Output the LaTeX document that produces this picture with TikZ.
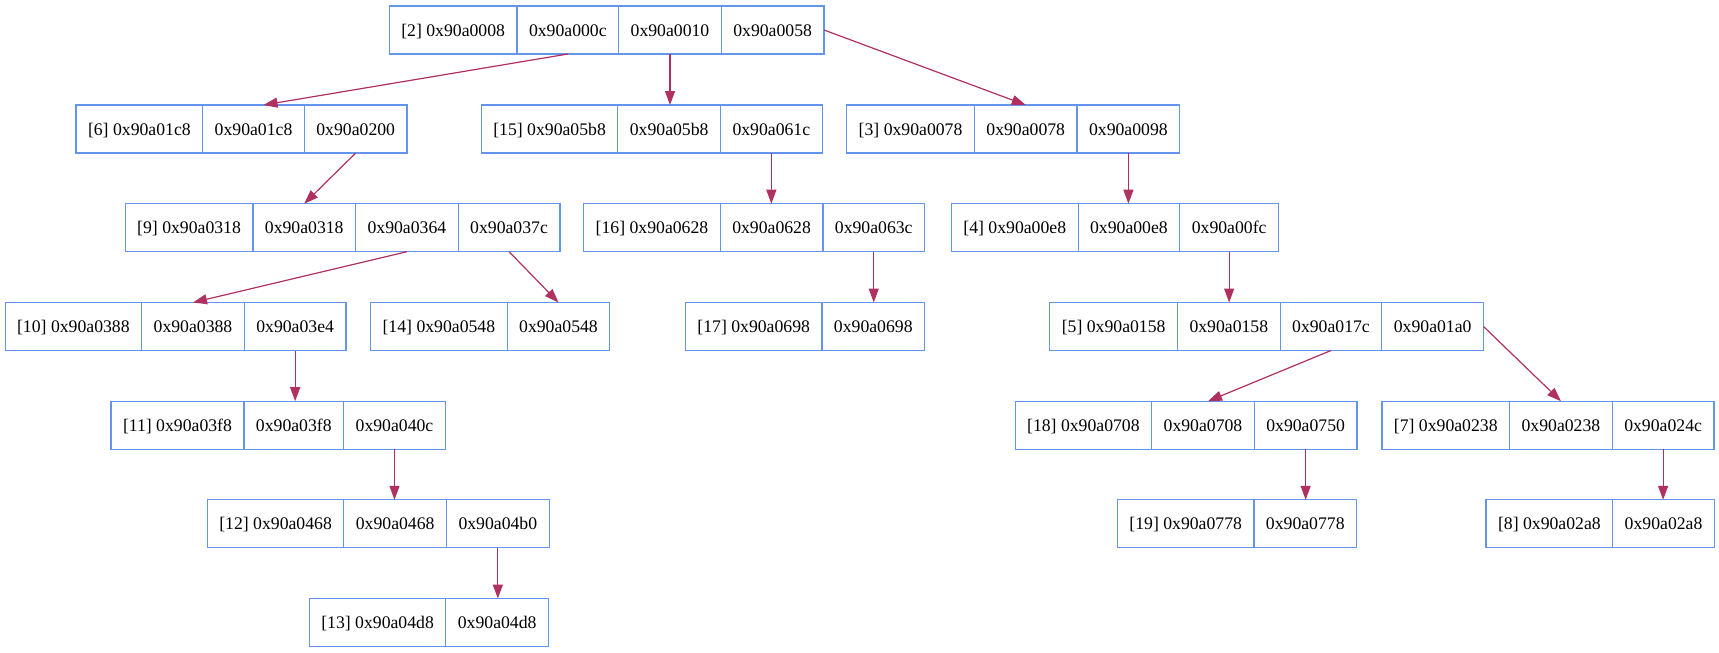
\documentclass[tikz,border=0pt]{standalone}
\usepackage{fontspec}
\setmainfont{Liberation Serif}
\usetikzlibrary{positioning,arrows.meta,calc}
\definecolor{boxc}{HTML}{6495ED}
\definecolor{edgec}{HTML}{B03060}
\tikzset{
  cell/.style={draw=boxc, line width=1.2pt, minimum height=48pt, inner xsep=12pt, inner ysep=0pt,
    outer sep=0pt, font=\fontsize{17.7}{20}\selectfont, text height=12pt, text depth=0pt},
  link/.style={draw=edgec, line width=1.2pt, -{Triangle[length=14pt,width=10pt]}}
}
\begin{document}
\begin{tikzpicture}[x=1pt,y=-1pt]
\useasboundingbox (0,0) rectangle (1719,653);
% row 0
\node[cell, anchor=west] (n2a) at (389.3,30) {[2] 0x90a0008};
\node[cell, right=0pt of n2a] (n2b) {0x90a000c};
\node[cell, right=0pt of n2b] (n2c) {0x90a0010};
\node[cell, right=0pt of n2c] (n2d) {0x90a0058};
% row 1
\node[cell, anchor=west] (n6a) at (76,129) {[6] 0x90a01c8};
\node[cell, right=0pt of n6a] (n6b) {0x90a01c8};
\node[cell, right=0pt of n6b] (n6c) {0x90a0200};
\node[cell, anchor=west] (n15a) at (481.3,129) {[15] 0x90a05b8};
\node[cell, right=0pt of n15a] (n15b) {0x90a05b8};
\node[cell, right=0pt of n15b] (n15c) {0x90a061c};
\node[cell, anchor=west] (n3a) at (846.7,129) {[3] 0x90a0078};
\node[cell, right=0pt of n3a] (n3b) {0x90a0078};
\node[cell, right=0pt of n3b] (n3c) {0x90a0098};
% row 2
\node[cell, anchor=west] (n9a) at (125.2,227.7) {[9] 0x90a0318};
\node[cell, right=0pt of n9a] (n9b) {0x90a0318};
\node[cell, right=0pt of n9b] (n9c) {0x90a0364};
\node[cell, right=0pt of n9c] (n9d) {0x90a037c};
\node[cell, anchor=west] (n16a) at (583.7,227.7) {[16] 0x90a0628};
\node[cell, right=0pt of n16a] (n16b) {0x90a0628};
\node[cell, right=0pt of n16b] (n16c) {0x90a063c};
\node[cell, anchor=west] (n4a) at (951.4,227.7) {[4] 0x90a00e8};
\node[cell, right=0pt of n4a] (n4b) {0x90a00e8};
\node[cell, right=0pt of n4b] (n4c) {0x90a00fc};
% row 3
\node[cell, anchor=west] (n10a) at (5.1,326.5) {[10] 0x90a0388};
\node[cell, right=0pt of n10a] (n10b) {0x90a0388};
\node[cell, right=0pt of n10b] (n10c) {0x90a03e4};
\node[cell, anchor=west] (n14a) at (370.6,326.5) {[14] 0x90a0548};
\node[cell, right=0pt of n14a] (n14b) {0x90a0548};
\node[cell, anchor=west] (n17a) at (685.4,326.5) {[17] 0x90a0698};
\node[cell, right=0pt of n17a] (n17b) {0x90a0698};
\node[cell, anchor=west] (n5a) at (1049.8,326.5) {[5] 0x90a0158};
\node[cell, right=0pt of n5a] (n5b) {0x90a0158};
\node[cell, right=0pt of n5b] (n5c) {0x90a017c};
\node[cell, right=0pt of n5c] (n5d) {0x90a01a0};
% row 4
\node[cell, anchor=west] (n11a) at (111,425.2) {[11] 0x90a03f8};
\node[cell, right=0pt of n11a] (n11b) {0x90a03f8};
\node[cell, right=0pt of n11b] (n11c) {0x90a040c};
\node[cell, anchor=west] (n18a) at (1015.1,425.2) {[18] 0x90a0708};
\node[cell, right=0pt of n18a] (n18b) {0x90a0708};
\node[cell, right=0pt of n18b] (n18c) {0x90a0750};
\node[cell, anchor=west] (n7a) at (1381.9,425.2) {[7] 0x90a0238};
\node[cell, right=0pt of n7a] (n7b) {0x90a0238};
\node[cell, right=0pt of n7b] (n7c) {0x90a024c};
% row 5
\node[cell, anchor=west] (n12a) at (207.3,523.8) {[12] 0x90a0468};
\node[cell, right=0pt of n12a] (n12b) {0x90a0468};
\node[cell, right=0pt of n12b] (n12c) {0x90a04b0};
\node[cell, anchor=west] (n19a) at (1117.4,523.8) {[19] 0x90a0778};
\node[cell, right=0pt of n19a] (n19b) {0x90a0778};
\node[cell, anchor=west] (n8a) at (1486,523.8) {[8] 0x90a02a8};
\node[cell, right=0pt of n8a] (n8b) {0x90a02a8};
% row 6
\node[cell, anchor=west] (n13a) at (309.3,622.5) {[13] 0x90a04d8};
\node[cell, right=0pt of n13a] (n13b) {0x90a04d8};
% edges
\draw[link] (n2b.south) -- ($(n6b.north)+(10,0)$);
\draw[link] (n2c.south) -- (n2c.south |- n15b.north);
\draw[link] (n2d.east) -- (n3b.north);
\draw[link] (n6c.south) -- (n9b.north);
\draw[link] (n9c.south) -- (n10b.north);
\draw[link] (n9d.south) -- (n14b.north);
\draw[link] (n15c.south) -- (n15c.south |- n16b.north);
\draw[link] (n16c.south) -- (n16c.south |- n17b.north);
\draw[link] (n3c.south) -- (n3c.south |- n4b.north);
\draw[link] (n4c.south) -- (n4c.south |- n5b.north);
\draw[link] (n5c.south) -- ($(n18b.north)+(5,0)$);
\draw[link] (n5d.east) -- (n7b.north);
\draw[link] (n10c.south) -- (n10c.south |- n11b.north);
\draw[link] (n11c.south) -- (n11c.south |- n12b.north);
\draw[link] (n12c.south) -- (n12c.south |- n13b.north);
\draw[link] (n18c.south) -- (n18c.south |- n19b.north);
\draw[link] (n7c.south) -- (n7c.south |- n8b.north);
\end{tikzpicture}
\end{document}
